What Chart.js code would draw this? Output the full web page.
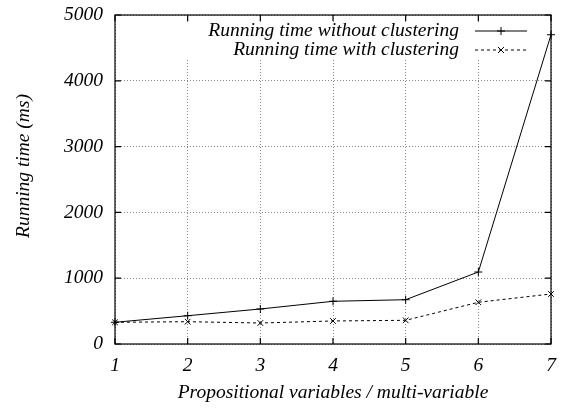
<!DOCTYPE html>
<html>
<head>
<meta charset="utf-8">
<script src="https://cdn.jsdelivr.net/npm/chart.js@4"></script>
<style>
  body { margin: 0; background: #fff; }
  #wrap { width: 566px; height: 408px; }
</style>
</head>
<body>
<div id="wrap"><canvas id="chart" width="566" height="408"></canvas></div>
<script>
// values
const categories = ['1', '2', '3', '4', '5', '6', '7'];
const withoutClustering = [330, 430, 532, 649, 673, 1094, 4700];
const withClustering = [330, 339, 319, 350, 360, 634, 760];
const yTicks = [0, 1000, 2000, 3000, 4000, 5000];

const FONT = { family: "'Liberation Serif', 'Times New Roman', serif", size: 19.5, style: 'italic' };
const fontStr = "italic 19.5px 'Liberation Serif', 'Times New Roman', serif";

// gnuplot-ish frame: top/right border and inward ticks on all four sides
const framePlugin = {
  id: 'frame',
  beforeDatasetsDraw(chart) {
    // blank the key area so the grid stops under it
    const ctx = chart.ctx, a = chart.chartArea;
    ctx.save();
    ctx.fillStyle = '#fff';
    ctx.fillRect(180, a.top + 7, 355, 60 - a.top - 7);
    ctx.restore();
  },
  afterDraw(chart) {
    const ctx = chart.ctx, a = chart.chartArea;
    const x = chart.scales.x, y = chart.scales.y;
    const len = 6;
    ctx.save();
    ctx.strokeStyle = '#000';
    ctx.lineWidth = 1.2;
    ctx.strokeRect(a.left, a.top, a.right - a.left, a.bottom - a.top);
    ctx.beginPath();
    categories.forEach((c, i) => {
      const px = x.getPixelForValue(i);
      ctx.moveTo(px, a.bottom); ctx.lineTo(px, a.bottom - len);
      ctx.moveTo(px, a.top); ctx.lineTo(px, a.top + len);
    });
    yTicks.forEach(v => {
      const py = y.getPixelForValue(v);
      ctx.moveTo(a.left, py); ctx.lineTo(a.left + len, py);
      ctx.moveTo(a.right, py); ctx.lineTo(a.right - len, py);
    });
    ctx.stroke();

    // axis titles
    ctx.fillStyle = '#000';
    ctx.font = fontStr;
    ctx.textAlign = 'center';
    ctx.textBaseline = 'middle';
    ctx.fillText('Propositional variables / multi-variable', (a.left + a.right) / 2, 393);
    ctx.save();
    ctx.translate(24, 166);
    ctx.rotate(-Math.PI / 2);
    ctx.fillText('Running time (ms)', 0, 0);
    ctx.restore();

    // key: text right aligned, then line sample with its marker
    const rows = [31, 50];
    chart.data.datasets.forEach((ds, i) => {
      const ry = rows[i];
      ctx.textAlign = 'right';
      ctx.fillText(ds.label, 459, ry);
      ctx.beginPath();
      ctx.lineWidth = 1;
      ctx.setLineDash(ds.borderDash || []);
      ctx.moveTo(475, ry); ctx.lineTo(527, ry);
      ctx.stroke();
      ctx.setLineDash([]);
      ctx.beginPath();
      if (ds.pointStyle === 'cross') {
        ctx.moveTo(501, ry - 4); ctx.lineTo(501, ry + 4);
        ctx.moveTo(497, ry); ctx.lineTo(505, ry);
      } else {
        ctx.moveTo(498, ry - 3); ctx.lineTo(504, ry + 3);
        ctx.moveTo(504, ry - 3); ctx.lineTo(498, ry + 3);
      }
      ctx.stroke();
    });
    ctx.restore();
  }
};

new Chart(document.getElementById('chart'), {
  type: 'line',
  data: {
    labels: categories,
    datasets: [
      {
        label: 'Running time without clustering',
        data: withoutClustering,
        borderColor: '#000',
        borderWidth: 1,
        pointStyle: 'cross',
        pointRadius: 4,
        pointBorderColor: '#000',
        pointBorderWidth: 1,
        tension: 0
      },
      {
        label: 'Running time with clustering',
        data: withClustering,
        borderColor: '#000',
        borderWidth: 1,
        borderDash: [3, 3],
        pointStyle: 'crossRot',
        pointRadius: 4,
        pointBorderColor: '#000',
        pointBorderWidth: 1,
        tension: 0
      }
    ]
  },
  options: {
    responsive: false,
    animation: false,
    layout: { padding: { top: 15, right: 15, left: 0, bottom: 0 } },
    plugins: {
      legend: { display: false },
      tooltip: { enabled: false }
    },
    scales: {
      x: {
        offset: false,
        grid: { color: '#888', drawTicks: false, offset: false },
        border: { display: false, dash: [1, 2] },
        ticks: { color: '#000', font: FONT, padding: 10, maxRotation: 0 },
        afterFit(s) { s.height = 64; s.paddingLeft = 0; s.paddingRight = 0; }
      },
      y: {
        min: 0,
        max: 5000,
        afterBuildTicks(s) { s.ticks = yTicks.map(v => ({ value: v })); },
        grid: { color: '#888', drawTicks: false },
        border: { display: false, dash: [1, 2] },
        ticks: { color: '#000', font: FONT, padding: 12, callback: v => String(v) },
        afterFit(s) { s.width = 115; s.paddingTop = 0; s.paddingBottom = 0; }
      }
    }
  },
  plugins: [framePlugin]
});
</script>
</body>
</html>
